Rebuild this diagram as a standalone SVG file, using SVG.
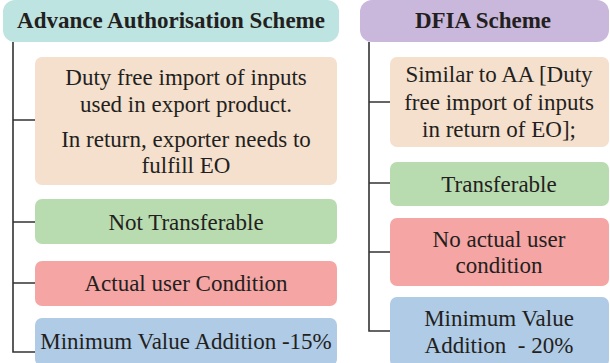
<svg xmlns="http://www.w3.org/2000/svg" width="610" height="363" viewBox="0 0 610 363">
  <style>
    .t { font-family: "Liberation Serif", "Times New Roman", serif; font-size: 23px; fill: #231f20; text-anchor: middle; }
    .h { font-weight: bold; font-size: 23px; }
    .ln { stroke: #333; stroke-width: 1.6; fill: none; }
    .hdr-a { fill: #bde4e1; }
    .hdr-b { fill: #c9b8db; }
    .peach { fill: #f5dfcd; }
    .green { fill: #b9dbb0; }
    .red { fill: #f5a5a4; }
    .blue { fill: #afcbe6; }
  </style>

  <!-- connectors -->
  <g id="connectors">
    <path class="ln" d="M13,42 V352 H35 M13,120 H35 M13,222 H35 M13,283 H35"/>
    <path class="ln" d="M369,42 V331 H390 M369,102 H390 M369,183 H390 M369,252 H390"/>
  </g>

  <!-- left column -->
  <g id="aa-header">
    <rect class="hdr-a" x="3" y="0" width="336" height="42" rx="12"/>
    <text class="t h" x="171" y="28">Advance Authorisation Scheme</text>
  </g>
  <g id="aa-duty">
    <rect class="peach" x="35" y="57" width="302" height="128" rx="7"/>
    <text class="t" x="186" y="85">Duty free import of inputs</text>
    <text class="t" x="186" y="112">used in export product.</text>
    <text class="t" x="186" y="147">In return, exporter needs to</text>
    <text class="t" x="186" y="173">fulfill EO</text>
  </g>
  <g id="aa-transfer">
    <rect class="green" x="35" y="199" width="302" height="45" rx="7"/>
    <text class="t" x="186" y="230">Not Transferable</text>
  </g>
  <g id="aa-user">
    <rect class="red" x="35" y="261" width="302" height="45" rx="7"/>
    <text class="t" x="186" y="291">Actual user Condition</text>
  </g>
  <g id="aa-value">
    <rect class="blue" x="35" y="318" width="302" height="48" rx="7"/>
    <text class="t" x="186" y="349">Minimum Value Addition -15%</text>
  </g>

  <!-- right column -->
  <g id="dfia-header">
    <rect class="hdr-b" x="360" y="0" width="249" height="42" rx="12"/>
    <text class="t h" x="483" y="28">DFIA Scheme</text>
  </g>
  <g id="dfia-similar">
    <rect class="peach" x="390" y="57" width="219" height="90" rx="7"/>
    <text class="t" x="499" y="82">Similar to AA [Duty</text>
    <text class="t" x="499" y="110">free import of inputs</text>
    <text class="t" x="499" y="137">in return of EO];</text>
  </g>
  <g id="dfia-transfer">
    <rect class="green" x="390" y="162" width="219" height="44" rx="7"/>
    <text class="t" x="499" y="192">Transferable</text>
  </g>
  <g id="dfia-user">
    <rect class="red" x="390" y="218" width="219" height="68" rx="7"/>
    <text class="t" x="499" y="247">No actual user</text>
    <text class="t" x="499" y="273">condition</text>
  </g>
  <g id="dfia-value">
    <rect class="blue" x="390" y="297" width="219" height="70" rx="7"/>
    <text class="t" x="499" y="326">Minimum Value</text>
    <text class="t" x="499" y="353" xml:space="preserve">Addition  - 20%</text>
  </g>
</svg>
